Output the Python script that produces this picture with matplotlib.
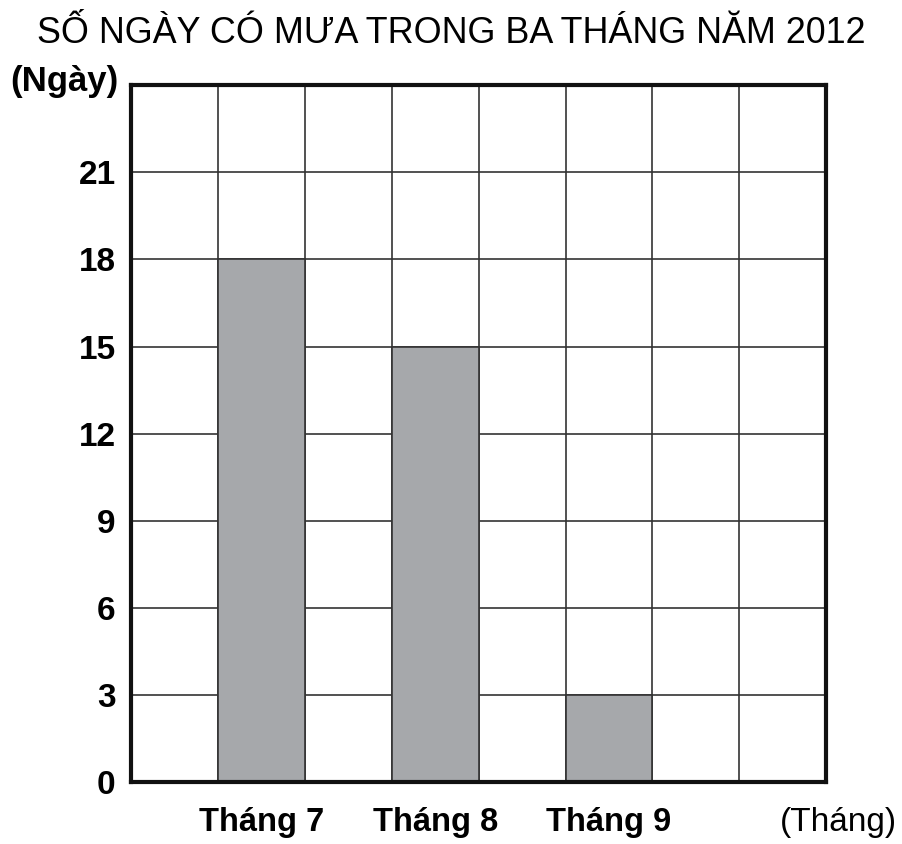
import matplotlib.pyplot as plt
import numpy as np

# data
months = ['Tháng 7', 'Tháng 8', 'Tháng 9']
rain_days = [18, 15, 3]
month_pos = [1.5, 3.5, 5.5]
y_ticks = [0, 3, 6, 9, 12, 15, 18, 21]

plt.rcParams['font.family'] = ['Liberation Sans', 'DejaVu Sans']

fig = plt.figure(figsize=(9.03, 8.44), dpi=100)
ax = fig.add_axes([0.145, 0.0735, 0.77, 0.8255])

# grid lines
for gx in range(1, 8):
    ax.axvline(gx, color='#333333', lw=1.2, zorder=1)
for gy in range(3, 24, 3):
    ax.axhline(gy, color='#333333', lw=1.2, zorder=1)

ax.bar(month_pos, rain_days, width=1, color='#a6a8ab', edgecolor='#333333',
       linewidth=1.2, zorder=2)

ax.set_xlim(0, 8)
ax.set_ylim(0, 24)
ax.set_yticks(y_ticks)
ax.set_yticklabels([str(v) for v in y_ticks], fontsize=24, fontweight='bold')
ax.set_xticks(month_pos)
ax.set_xticklabels(months, fontsize=23.5, fontweight='bold')
ax.tick_params(length=0)
ax.tick_params(axis='x', pad=18)
ax.tick_params(axis='y', pad=11)

for s in ax.spines.values():
    s.set_linewidth(3)
    s.set_color('#111111')
    s.set_zorder(3)

ax.text(8.14, -1.38, '(Tháng)', fontsize=24, fontweight='medium', ha='center', va='center')
fig.text(0.071, 0.903, '(Ngày)', fontsize=25, fontweight='bold', ha='center', va='center')

fig.text(0.5, 0.96, 'SỐ NGÀY CÓ MƯA TRONG BA THÁNG NĂM 2012',
         fontsize=25.8, ha='center', va='center')

fig.savefig('out.png', dpi=100)
